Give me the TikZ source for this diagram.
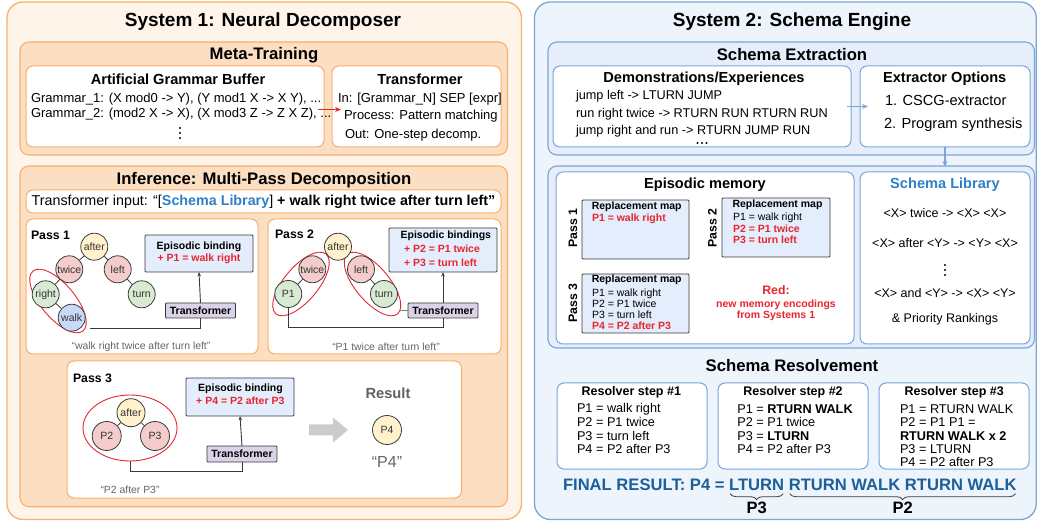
\documentclass[tikz,border=0pt]{standalone}
\usepackage{fontspec}
\setmainfont{Liberation Sans}
\usetikzlibrary{shapes.geometric,arrows.meta,decorations.pathreplacing,calc}
\definecolor{orfill}{HTML}{FFF4EA}
\definecolor{orline}{HTML}{F7B06B}
\definecolor{peach}{HTML}{FCDFC3}
\definecolor{blfill}{HTML}{EEF4FC}
\definecolor{blcont}{HTML}{E5EEFA}
\definecolor{blline}{HTML}{7BA5D9}
\definecolor{ebfill}{HTML}{E3EDFB}
\definecolor{lav}{HTML}{D9D2E9}
\definecolor{cyel}{HTML}{FFF2CC}
\definecolor{cpink}{HTML}{F4CCCC}
\definecolor{cgreen}{HTML}{D9EAD3}
\definecolor{cblue}{HTML}{C9DAF8}
\definecolor{myred}{HTML}{E8262F}
\definecolor{libblue}{HTML}{2F80C8}
\definecolor{finblue}{HTML}{1C5F99}
\definecolor{cdark}{HTML}{3A3A3A}
\definecolor{capgray}{HTML}{666666}
\newcommand{\fz}[1]{\fontsize{#1}{#1}\selectfont}
\newcommand{\bx}[6]{\pgfmathsetmacro\bw{#4-#2}\pgfmathsetmacro\bh{#5-#3}%
  \node[#6,minimum width=\bw pt,minimum height=\bh pt] (#1) at ({(#2+#4)/2},{(#3+#5)/2}) {};}
\newcommand{\vdotsat}[2]{\fill[black] (#1,#2-5) circle (1.2) (#1,#2) circle (1.2) (#1,#2+5) circle (1.2);}
\newcommand{\hdotsat}[2]{\fill[black] (#1-4.5,#2) circle (1.1) (#1,#2) circle (1.1) (#1+4.5,#2) circle (1.1);}
\tikzset{
  bxbase/.style={inner sep=0pt,outer sep=0pt},
  panelA/.style={bxbase,draw=orline,fill=orfill,line width=1.3pt,rounded corners=16pt},
  contA/.style={bxbase,draw=orline,fill=peach,line width=1.1pt,rounded corners=9pt},
  boxA/.style={bxbase,draw=orline,fill=white,line width=1pt,rounded corners=7pt},
  panelB/.style={bxbase,draw=blline,fill=blfill,line width=1.3pt,rounded corners=16pt},
  contB/.style={bxbase,draw=blline,fill=blcont,line width=1.1pt,rounded corners=9pt},
  boxB/.style={bxbase,draw=blline,fill=white,line width=1pt,rounded corners=7pt},
  ebox/.style={bxbase,draw=cdark,fill=ebfill,line width=0.9pt,rounded corners=1pt},
  tbox/.style={bxbase,draw=cdark,fill=lav,line width=0.9pt,rounded corners=1pt,font=\bfseries\fz{10.5}},
  txt/.style={inner sep=0pt,outer sep=0pt},
  ttl/.style={txt,font=\bfseries\fz{19}},
  sec/.style={txt,font=\bfseries\fz{16.7}},
  sub/.style={txt,font=\bfseries\fz{14.6}},
  bodyA/.style={txt,font=\fz{13},anchor=west},
  bodyB/.style={txt,font=\fz{12.7},anchor=west},
  small/.style={txt,font=\fz{10.5}},
  smallb/.style={txt,font=\bfseries\fz{10.5}},
  redb/.style={txt,font=\bfseries\fz{10.5},text=myred},
  captxt/.style={txt,font=\fz{10.4},text=capgray},
  passl/.style={txt,font=\bfseries\fz{12.3}},
  circ/.style={circle,draw=cdark,line width=0.8pt,minimum size=27pt,inner sep=0pt,font=\fz{10.5},text=black!80},
  edge/.style={draw=cdark,line width=0.8pt},
  conn/.style={draw=cdark,line width=0.9pt},
  upar/.style={conn,-{Stealth[length=4.5pt,width=3.5pt]}},
  redell/.style={ellipse,draw=myred,line width=0.9pt,inner sep=0pt},
}
\begin{document}
\begin{tikzpicture}[x=1pt,y=-1pt]
\useasboundingbox (0,0) rectangle (1037,521);
\clip (0,0) rectangle (1037,521);
% ================= SYSTEM 1 =================
\bx{sys1}{7}{2}{521.5}{519.5}{panelA}
\node[ttl] (t1) at (263,22) {System 1: Neural Decomposer};
\bx{meta}{20}{42}{507.5}{155}{contA}
\node[sec] (tmeta) at (264,55) {Meta-Training};
\bx{abg}{26}{66}{324}{147}{boxA}
\bx{tfm}{332}{66}{501}{147}{boxA}
\node[sub] (tabg) at (178,79) {Artificial Grammar Buffer};
\node[bodyA] (g1) at (31,99.3) {Grammar\_1: (X mod0 -> Y), (Y mod1 X -> X Y), ...};
\node[bodyA] (g2) at (31,114.3) {Grammar\_2: (mod2 X -> X), (X mod3 Z -> Z X Z), ...};
\vdotsat{180}{133}
\node[sub] (ttfm) at (420,79) {Transformer};
\node[bodyA] (tf1) at (338,99.3) {In: [Grammar\_N] SEP [expr]};
\node[bodyA] (tf2) at (344,116.3) {Process: Pattern matching};
\node[bodyA] (tf3) at (345,135) {Out: One-step decomp.};
\draw[myred,line width=1pt,-{Stealth[length=6pt,width=5pt]}] ([shift={(-6,3)}]abg.east) -- ([shift={(9,3)}]tfm.west);
% Inference
\bx{inf}{20}{166}{507.5}{506.7}{contA}
\node[sec] (tinf) at (264,180) {Inference: Multi-Pass Decomposition};
\bx{tin}{26}{190}{501}{213}{boxA}
\node[txt,font=\fz{14.3}] (tint) at (263.5,201.5) {Transformer input: “[\textbf{\textcolor{libblue}{Schema Library}}] \textbf{+ walk right twice after turn left”}};
% Pass 1
\bx{p1}{26}{219}{258}{354}{boxA}
\node[passl,anchor=west] (p1l) at (31,235) {Pass 1};
\node[redell,minimum width=78pt,minimum height=34pt,rotate=-50] (e1) at (58,301) {};
\node[circ,fill=cyel] (a1) at (94.3,246.7) {after};
\node[circ,fill=cpink] (tw1) at (69.3,269.3) {twice};
\node[circ,fill=cpink] (l1) at (117.7,269.3) {left};
\node[circ,fill=cgreen] (r1) at (45.7,294.3) {right};
\node[circ,fill=cgreen] (tu1) at (141.7,294.3) {turn};
\node[circ,fill=cblue] (w1) at (71.7,317.7) {walk};
\draw[edge] (a1) -- (tw1); \draw[edge] (a1) -- (l1);
\draw[edge] (tw1) -- (r1); \draw[edge] (l1) -- (tu1); \draw[edge] (r1) -- (w1);
\bx{eb1}{145}{235}{253}{272}{ebox}
\node[smallb] (eb1a) at (199,246.7) {Episodic binding};
\node[redb] (eb1b) at (199,259.3) {+ P1 = walk right};
\node[tbox,minimum width=70pt,minimum height=15pt] (tr1) at (200.5,310.5) {Transformer};
\coordinate (c1) at (90,328.3);
\draw[conn] (c1) -| (tr1.south);
\draw[upar] (tr1.north) -- (eb1.south);
\node[captxt] (cap1) at (141,347) {“walk right twice after turn left”};
% Pass 2
\bx{p2}{268}{219}{501}{354}{boxA}
\node[passl,anchor=west] (p2l) at (275,234) {Pass 2};
\node[redell,minimum width=78pt,minimum height=34pt,rotate=50] (e21) at (301,284) {};
\node[redell,minimum width=78pt,minimum height=34pt,rotate=-50] (e22) at (372.5,284) {};
\node[circ,fill=cyel] (a2) at (338,246.7) {after};
\node[circ,fill=cpink] (tw2) at (312.3,269.3) {twice};
\node[circ,fill=cgreen] (pp1) at (288.3,294) {P1};
\node[circ,fill=cpink] (l2) at (361,269.3) {left};
\node[circ,fill=cgreen] (tu2) at (384,294) {turn};
\draw[edge] (tw2) -- (pp1); \draw[edge] (l2) -- (tu2);
\bx{eb2}{389}{228}{497}{272}{ebox}
\node[smallb] (eb2a) at (445.8,235.5) {Episodic bindings};
\node[redb,anchor=west] (eb2b) at (404,249) {+ P2 = P1 twice};
\node[redb,anchor=west] (eb2c) at (404,262.7) {+ P3 = turn left};
\node[tbox,minimum width=70pt,minimum height=15pt] (tr2) at (443,310.5) {Transformer};
\draw[conn] (pp1.south) -- ++(0,20) -| (tr2.south);
\draw[draw=gray,line width=0.9pt] (tr2.west) -- ++(-9,0);
\draw[upar] (tr2.north) -- (eb2.south);
\node[captxt] (cap2) at (386,347) {“P1 twice after turn left”};
% Pass 3
\bx{p3}{67}{361}{461.5}{498}{boxA}
\node[passl,anchor=west] (p3l) at (73,378) {Pass 3};
\node[redell,minimum width=94pt,minimum height=66pt] (e3) at (130,428) {};
\node[circ,fill=cyel,minimum size=28pt] (a3) at (131,412.7) {after};
\node[circ,fill=cpink,minimum size=29pt] (pp2) at (106.7,436) {P2};
\node[circ,fill=cpink,minimum size=29pt] (pp3) at (155,436) {P3};
\draw[edge] (a3) -- (pp2); \draw[edge] (a3) -- (pp3);
\bx{eb3}{186}{378}{294}{416}{ebox}
\node[smallb] (eb3a) at (240.5,389.3) {Episodic binding};
\node[redb] (eb3b) at (240.3,401) {+ P4 = P2 after P3};
\node[tbox,minimum width=70pt,minimum height=16pt] (tr3) at (242,454) {Transformer};
\draw[conn] (e3.south) -- ++(0,10) -| (tr3.south);
\draw[upar] (tr3.north) -- (eb3.south);
\node[captxt] (cap3) at (130,490) {“P2 after P3”};
\fill[black!20] (309,424.5) -- (333,424.5) -- (333,417.5) -- (348,430) -- (333,442.5) -- (333,435.5) -- (309,435.5) -- cycle;
\node[txt,font=\bfseries\fz{14.7},text=black!62] (res) at (388,393) {Result};
\node[circ,fill=cyel,minimum size=29pt] (pp4) at (387,430) {P4};
\node[txt,font=\fz{16},text=black!60] (resq) at (387,462) {“P4”};
% ================= SYSTEM 2 =================
\bx{sys2}{534.5}{2}{1036.3}{519.5}{panelB}
\node[ttl] (t2) at (792,22) {System 2: Schema Engine};
\bx{sext}{548}{42}{1034.5}{155}{contB}
\node[sec] (tsext) at (792,55) {Schema Extraction};
\bx{demo}{553}{66}{851}{147}{boxB}
\bx{extr}{860}{66}{1030}{147}{boxB}
\node[sub] (tdemo) at (704,79) {Demonstrations/Experiences};
\node[bodyB] (d1) at (576,96) {jump left -> LTURN JUMP};
\node[bodyB] (d2) at (576,114.3) {run right twice -> RTURN RUN RTURN RUN};
\node[bodyB] (d3) at (576,131.7) {jump right and run -> RTURN JUMP RUN};
\hdotsat{702}{143}
\node[sub] (textr) at (944.7,79) {Extractor Options};
\node[txt,font=\fz{14.6},anchor=west] (x1) at (885,100.5) {1. CSCG-extractor};
\node[txt,font=\fz{14.6},anchor=west] (x2) at (884,125) {2. Program synthesis};
\draw[blline,line width=1.2pt,-{Stealth[length=6pt,width=5pt]}] ([xshift=-4]demo.east) -- ([xshift=8]extr.west);
% Episodic memory
\bx{epc}{548}{166}{1034.5}{348}{contB}
\bx{epm}{556}{172}{854}{344}{boxB}
\bx{slib}{860}{172}{1030}{344}{boxB}
\draw[blline,line width=1.2pt,-{Stealth[length=6pt,width=5pt]}] (extr.south) -- ([yshift=5]slib.north);
\node[sub] (tepm) at (705,185) {Episodic memory};
\bx{m1}{582}{200}{689}{259}{ebox}
\bx{m2}{722}{198}{830}{257}{ebox}
\bx{m3}{582}{274}{689}{333}{ebox}
\node[passl,rotate=90] (mp1) at (573,228) {Pass 1};
\node[passl,rotate=90] (mp2) at (712.3,228) {Pass 2};
\node[passl,rotate=90] (mp3) at (573,303.3) {Pass 3};
\node[smallb] (m1t) at (636.7,206.7) {Replacement map};
\node[redb,anchor=west] (m1a) at (592,219.3) {P1 = walk right};
\node[smallb] (m2t) at (777.5,205) {Replacement map};
\node[small,anchor=west] (m2a) at (733,217.3) {P1 = walk right};
\node[redb,anchor=west] (m2b) at (733,228.3) {P2 = P1 twice};
\node[redb,anchor=west] (m2c) at (733,239.3) {P3 = turn left};
\node[smallb] (m3t) at (636.7,280) {Replacement map};
\node[small,anchor=west] (m3a) at (592,293.3) {P1 = walk right};
\node[small,anchor=west] (m3b) at (592,304) {P2 = P1 twice};
\node[small,anchor=west] (m3c) at (592,315) {P3 = turn left};
\node[redb,anchor=west] (m3d) at (592,325.7) {P4 = P2 after P3};
\node[txt,font=\bfseries\fz{12.3},text=myred] (rd1) at (776,290) {Red:};
\node[redb] (rd2) at (776,305.3) {new memory encodings};
\node[redb] (rd3) at (776,316) {from Systems 1};
\node[txt,font=\bfseries\fz{14.6},text=libblue] (tslib) at (945,185) {Schema Library};
\node[txt,font=\fz{12.5}] (s1) at (945,213) {<X> twice -> <X> <X>};
\node[txt,font=\fz{12.5}] (s2) at (945,243) {<X> after <Y> -> <Y> <X>};
\vdotsat{945}{270}
\node[txt,font=\fz{12.5}] (s4) at (945,293) {<X> and <Y> -> <X> <Y>};
\node[txt,font=\fz{12.5}] (s5) at (945,319) {\& Priority Rankings};
% Schema resolvement
\node[sec] (tres) at (792,366) {Schema Resolvement};
\bx{rs1}{557}{383}{707}{469}{boxB}
\bx{rs2}{718}{383}{868}{469}{boxB}
\bx{rs3}{879}{383}{1029}{469}{boxB}
\node[txt,font=\bfseries\fz{12.5}] (r1t) at (631.3,392.5) {Resolver step \#1};
\node[txt,font=\bfseries\fz{12.5}] (r2t) at (793,392.5) {Resolver step \#2};
\node[txt,font=\bfseries\fz{12.5}] (r3t) at (954.2,392.5) {Resolver step \#3};
\node[bodyB] (r1a) at (577,409) {P1 = walk right};
\node[bodyB] (r1b) at (577,422.3) {P2 = P1 twice};
\node[bodyB] (r1c) at (577,435.7) {P3 = turn left};
\node[bodyB] (r1d) at (577,449) {P4 = P2 after P3};
\node[bodyB] (r2a) at (737.3,409) {P1 = \textbf{RTURN WALK}};
\node[bodyB] (r2b) at (737.3,422.3) {P2 = P1 twice};
\node[bodyB] (r2c) at (737.3,435.7) {P3 = \textbf{LTURN}};
\node[bodyB] (r2d) at (737.3,449) {P4 = P2 after P3};
\node[bodyB] (r3a) at (900,409) {P1 = RTURN WALK};
\node[bodyB] (r3b) at (900,422.3) {P2 = P1 P1 =};
\node[bodyB,font=\bfseries\fz{12.7}] (r3c) at (900,435.7) {RTURN WALK x 2};
\node[bodyB] (r3d) at (900,449) {P3 = LTURN};
\node[bodyB] (r3e) at (900,461.7) {P4 = P2 after P3};
\node[txt,font=\bfseries\fz{16.6},text=finblue,anchor=base west] (fin) at (563,490.5) {FINAL RESULT: P4 =};
\node[txt,font=\bfseries\fz{16.6},text=finblue,anchor=base west] (finl) at ([xshift=4.6pt]fin.base east) {LTURN};
\node[txt,font=\bfseries\fz{16.6},text=finblue,anchor=base west] (finr) at ([xshift=4.6pt]finl.base east) {RTURN WALK RTURN WALK};
\draw[cdark,line width=0.8pt,decorate,decoration={brace,mirror,amplitude=6pt}] ([shift={(1,3)}]finl.south west) -- ([shift={(-1,3)}]finl.south east);
\draw[cdark,line width=0.8pt,decorate,decoration={brace,mirror,amplitude=6pt}] ([shift={(1,3)}]finr.south west) -- ([shift={(-1,3)}]finr.south east);
\node[txt,font=\bfseries\fz{16.5}] (bp3) at ($(finl.south)+(0,17)$) {P3};
\node[txt,font=\bfseries\fz{16.5}] (bp2) at ($(finr.south)+(0,17)$) {P2};
\end{tikzpicture}
\end{document}
